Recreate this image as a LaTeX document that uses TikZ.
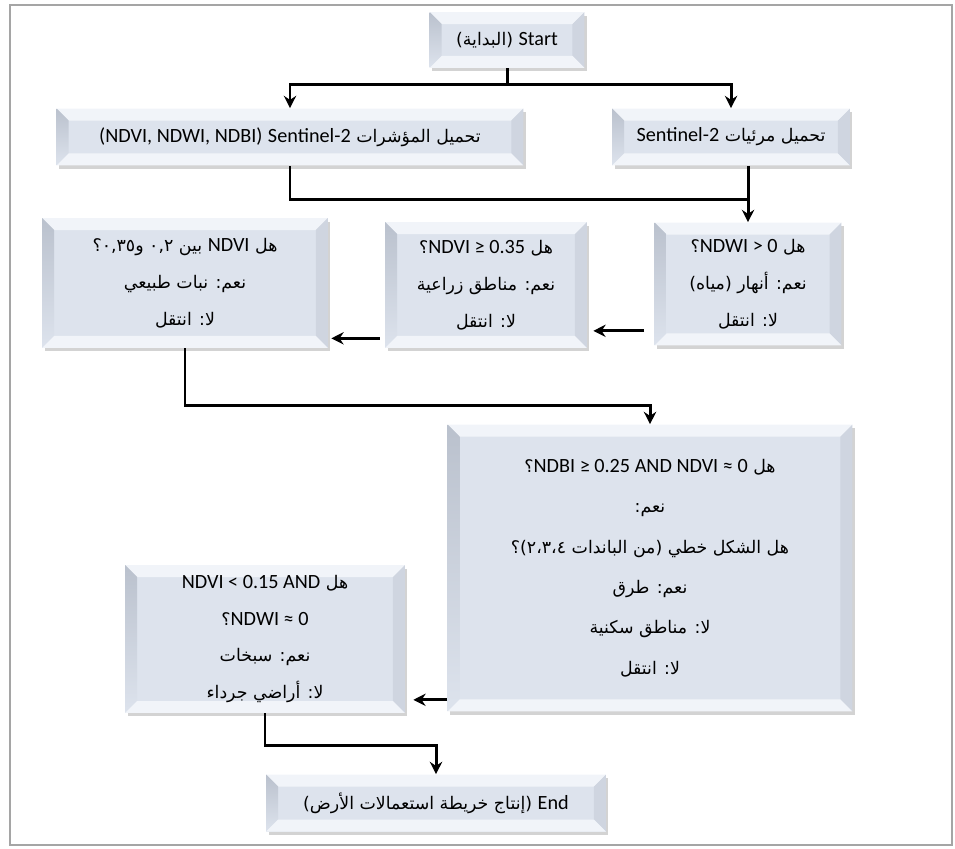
\documentclass[tikz,border=0pt]{standalone}
\usepackage{fontspec}
\usepackage{tikz}
\usetikzlibrary{positioning,calc,shadows,arrows.meta}
\setmainfont{Carlito}
\newfontfamily\latfont{Carlito}
\newfontfamily\arfont[Script=Arabic,Scale=0.86]{DejaVu Sans}
\TeXXeTstate=1
\newcommand\arline[1]{{\arfont\beginR #1\endR}}
\newcommand\enseg[1]{\beginL{\latfont #1}\endL}
\definecolor{boxfill}{RGB}{221,227,237}
\definecolor{bevlight}{RGB}{241,244,249}
\definecolor{bevdark}{RGB}{186,193,205}
\definecolor{bevright}{RGB}{207,213,224}
\definecolor{framegray}{RGB}{165,165,165}

\begin{document}
\begin{tikzpicture}[
    x=0.02cm, y=-0.02cm,
    bevelbox/.style={rectangle, fill=boxfill, draw=none, align=center,
        font=\fontsize{11.5}{21}\selectfont,
        drop shadow={shadow xshift=0.05cm, shadow yshift=-0.07cm, opacity=0.35},
        path picture={
            \coordinate (nw) at (path picture bounding box.north west);
            \coordinate (ne) at (path picture bounding box.north east);
            \coordinate (sw) at (path picture bounding box.south west);
            \coordinate (se) at (path picture bounding box.south east);
            \fill[bevlight] (nw) -- (ne) -- ($(ne)+(-0.24cm,-0.24cm)$) -- ($(nw)+(0.24cm,-0.24cm)$) -- cycle;
            \shade[top color=bevdark, bottom color=boxfill] (nw) -- ($(nw)+(0.24cm,-0.24cm)$) -- ($(sw)+(0.24cm,0.24cm)$) -- (sw) -- cycle;
            \fill[bevright] (ne) -- (se) -- ($(se)+(-0.24cm,0.24cm)$) -- ($(ne)+(-0.24cm,-0.24cm)$) -- cycle;
            \fill[bevlight] (sw) -- ($(sw)+(0.24cm,0.24cm)$) -- ($(se)+(-0.24cm,0.24cm)$) -- (se) -- cycle;
        }},
    flowline/.style={line width=1.7pt, black},
    flowarrow/.style={-{Stealth[length=7pt,width=7pt]}, line width=1.7pt, black}
]
\useasboundingbox (0,0) rectangle (955,848);
\draw[framegray, line width=1pt] (10,5) rectangle (952,845);

% start and loading
\node[bevelbox, minimum width=3.1cm, minimum height=1.12cm] (start) at (507,40)
    {\arline{\enseg{Start} (البداية)}};
\node[bevelbox, minimum width=9.34cm, minimum height=1.14cm] (loadL) at (290,137)
    {\arline{تحميل المؤشرات \enseg{Sentinel-2} \enseg{(NDVI, NDWI, NDBI)}}};
\node[bevelbox, minimum width=4.76cm, minimum height=1.14cm] (loadR) at (731,137)
    {\arline{تحميل مرئيات \enseg{Sentinel-2}}};

% first row of tests
\node[bevelbox, minimum width=3.74cm, minimum height=2.46cm] (ndwi) at (748,284)
    {\arline{هل \enseg{NDWI > 0}؟}\\ \arline{نعم: أنهار (مياه)}\\ \arline{لا: انتقل}};
\node[bevelbox, minimum width=4.04cm, minimum height=2.52cm] (ndvi035) at (486,285)
    {\arline{هل \enseg{NDVI ≥ 0.35}؟}\\ \arline{نعم: مناطق زراعية}\\ \arline{لا: انتقل}};
\node[bevelbox, minimum width=5.72cm, minimum height=2.6cm] (between) at (185,283)
    {\arline{هل \enseg{NDVI} بين ٠,٢ و٠,٣٥؟}\\ \arline{نعم: نبات طبيعي}\\ \arline{لا: انتقل}};

% built-up test
\node[bevelbox, minimum width=8.1cm, minimum height=5.74cm, font=\fontsize{11.5}{23}\selectfont] (ndbi) at (650,568)
    {\arline{هل \enseg{NDBI ≥ 0.25 AND NDVI ≈ 0}؟}\\ \arline{نعم:}\\
     \arline{هل الشكل خطي (من الباندات ٢،٣،٤)؟}\\ \arline{نعم: طرق}\\
     \arline{لا: مناطق سكنية}\\ \arline{لا: انتقل}};

% salt flats test
\node[bevelbox, minimum width=5.6cm, minimum height=2.96cm] (salt) at (265,639)
    {\arline{هل \enseg{NDVI < 0.15 AND}}\\ \arline{\enseg{NDWI ≈ 0}؟}\\
     \arline{نعم: سبخات}\\ \arline{لا: أراضي جرداء}};

% end
\node[bevelbox, minimum width=6.8cm, minimum height=1.14cm] (finish) at (436,803)
    {\arline{\enseg{End} (إنتاج خريطة استعمالات الأرض)}};

% connectors
\draw[flowarrow] (start.south) -- ++(0,16) -| (loadL.north);
\draw[flowarrow] (start.south) -- ++(0,16) -| (loadR.north);
\draw[flowline] (loadR.south -| ndwi.north) -- ++(0,34);
\draw[flowarrow] (loadL.south) -- ++(0,34) -| (ndwi.north);

\coordinate (w1) at ($(ndwi.south west)+(-10,-15)$);
\draw[flowarrow] (w1) -- ([xshift=0.12cm]w1 -| ndvi035.east);
\coordinate (w2) at ($(ndvi035.south west)+(-5,-10)$);
\draw[flowarrow] (w2) -- ([xshift=0.06cm]w2 -| between.east);

\draw[flowarrow] (between.south) -- ++(0,57) -| (ndbi.north);

\coordinate (w3) at ($(ndbi.south west)+(0,-12)$);
\draw[flowarrow] (w3) -- ([xshift=0.16cm]w3 -| salt.east);

\draw[flowarrow] (salt.south) -- ++(0,32) -| (finish.north);
\end{tikzpicture}
\end{document}
